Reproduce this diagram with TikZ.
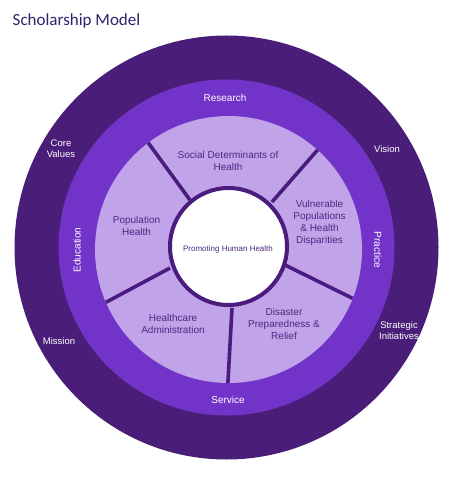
\documentclass[tikz,border=0pt]{standalone}
\usepackage{fontspec}
\setmainfont{Liberation Sans}
\newfontfamily\titlefont{Carlito}
\definecolor{outerc}{HTML}{4A1E78}
\definecolor{midc}{HTML}{7234C8}
\definecolor{innerc}{HTML}{C0A3E8}
\definecolor{linec}{HTML}{4B1C7E}
\definecolor{txtc}{HTML}{4A2A82}
\definecolor{titlec}{HTML}{30206E}
\tikzset{
  ringlbl/.style={text=white, font=\fontsize{10}{12}\selectfont, align=center, inner sep=0pt},
  outlbl/.style={text=white, font=\fontsize{9.5}{11.5}\selectfont, align=center, inner sep=0pt},
  areal/.style={text=txtc, font=\fontsize{10}{12}\selectfont, align=center, inner sep=0pt},
  divider/.style={draw=linec, line width=3.6pt},
}
\begin{document}
\begin{tikzpicture}[x=1pt,y=-1pt]
\useasboundingbox (0,0) rectangle (450,478);
\coordinate (c1) at (226.5,247.5);
\coordinate (c3) at (228.5,249.5);
\coordinate (cw) at (228.5,246.5);
\fill[outerc] (c1) circle (212);
\fill[midc] (c1) circle (168);
\fill[innerc] (c3) circle (133.5);
\begin{scope}
  \clip (c3) circle (133.5);
  \coordinate (a1) at (190,200); \coordinate (b1) at (144,137);
  \coordinate (a2) at (272,202); \coordinate (b2) at (321,146);
  \coordinate (a3) at (285,265); \coordinate (b3) at (358,301);
  \coordinate (a4) at (232,308); \coordinate (b4) at (227.5,390);
  \coordinate (a5) at (170,268); \coordinate (b5) at (99,306);
  \foreach \i in {1,...,5} \draw[divider] (a\i) -- (b\i);
\end{scope}
\draw[fill=white, draw=linec, line width=4pt] (cw) circle (58.5);
\node[text=txtc, font=\fontsize{8}{10}\selectfont, inner sep=0pt] (core) at (228,249) {Promoting Human Health};
\node[anchor=west, inner sep=0pt, text=titlec, font=\titlefont\fontsize{17}{20}\selectfont] (title) at (12.5,21) {Scholarship Model};
\node[ringlbl] (research) at (225,98) {Research};
\node[ringlbl] (service) at (228,400) {Service};
\node[ringlbl, rotate=90] (education) at (77,250) {Education};
\node[ringlbl, rotate=-90] (practice) at (378,250) {Practice};
\node[outlbl] (values) at (61,148.5) {Core\\Values};
\node[outlbl] (vision) at (387,149) {Vision};
\node[outlbl] (mission) at (59,341) {Mission};
\node[outlbl] (strategic) at (399,330.5) {Strategic\\Initiatives};
\node[areal] (social) at (228,161) {Social Determinants of\\Health};
\node[areal] (population) at (136.5,226) {Population\\Health};
\node[areal] (vulnerable) at (319.5,222.5) {Vulnerable\\Populations\\\& Health\\Disparities};
\node[areal] (admin) at (173,324) {Healthcare\\Administration};
\node[areal] (disaster) at (284,324) {Disaster\\Preparedness \&\\Relief};
\end{tikzpicture}
\end{document}
